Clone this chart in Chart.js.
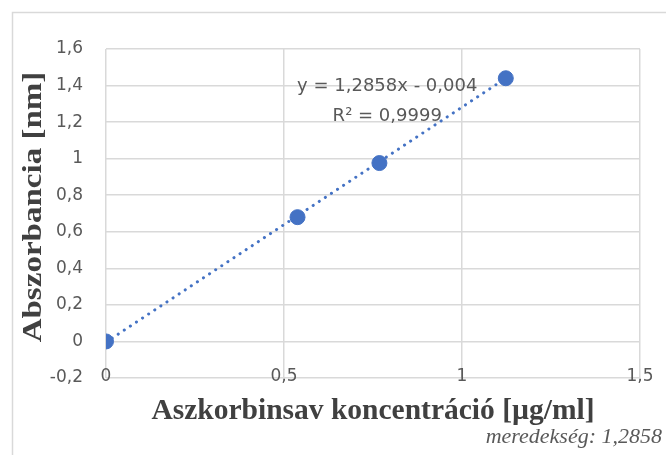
<!DOCTYPE html>
<html>
<head>
<meta charset="utf-8">
<script src="https://cdn.jsdelivr.net/npm/chart.js@4"></script>
<style>
html,body{margin:0;padding:0;background:#fff;}
#wrap{position:relative;width:666px;height:455px;}
canvas{display:block;}
</style>
</head>
<body>
<div id="wrap"><canvas id="c" width="666" height="455"></canvas></div>
<script>
// Data
const concentrations = [0, 0.538, 0.768, 1.123];
const absorbances = [0, 0.68, 0.976, 1.44];
const xTickLabels = ['0', '0,5', '1', '1,5'];
const yTickLabels = ['-0,2', '0', '0,2', '0,4', '0,6', '0,8', '1', '1,2', '1,4', '1,6'];
const trendSlope = 1.2858;
const trendIntercept = -0.004;
const trendRange = [0, 1.123];
const equationLines = ['y = 1,2858x - 0,004', 'R² = 0,9999'];
const xTitle = 'Aszkorbinsav koncentráció [µg/ml]';
const yTitle = 'Abszorbancia [nm]';
const noteText = 'meredekség: 1,2858';

const blue = '#4472C4';
const sansFont = '"DejaVu Sans", "Open Sans", sans-serif';
const serifFont = '"Liberation Serif", "DejaVu Serif", serif';
const trendPoints = trendRange.map(x => ({x: x, y: trendSlope * x + trendIntercept}));

const extras = {
  id: 'extras',
  afterDraw(chart) {
    const ctx = chart.ctx;
    const xs = chart.scales.x, ys = chart.scales.y;
    ctx.save();
    // outer border (partial, as in reference)
    ctx.strokeStyle = '#d9d9d9';
    ctx.lineWidth = 1.5;
    ctx.beginPath();
    ctx.moveTo(12.5, 455);
    ctx.lineTo(12.5, 12.5);
    ctx.lineTo(666, 12.5);
    ctx.stroke();
    // y axis title (stretched along its length as in the reference)
    ctx.save();
    ctx.translate(34, 207);
    ctx.rotate(-Math.PI / 2);
    ctx.scale(1.18, 1);
    ctx.fillStyle = '#404040';
    ctx.font = 'bold 28px ' + serifFont;
    ctx.textAlign = 'center';
    ctx.textBaseline = 'middle';
    ctx.fillText(yTitle, 0, 0);
    ctx.restore();
    // equation label
    ctx.fillStyle = '#595959';
    ctx.font = '18px ' + sansFont;
    ctx.textAlign = 'center';
    ctx.textBaseline = 'middle';
    const ex = xs.getPixelForValue(0.79);
    const ey = ys.getPixelForValue(1.395);
    ctx.fillText(equationLines[0], ex, ey);
    ctx.fillText(equationLines[1], ex, ey + 30);
    // note
    ctx.font = 'italic 22px ' + serifFont;
    ctx.textAlign = 'right';
    ctx.textBaseline = 'alphabetic';
    ctx.fillText(noteText, 662, 443);
    ctx.restore();
  }
};

new Chart(document.getElementById('c'), {
  type: 'scatter',
  data: {
    datasets: [
      {
        label: 'trend',
        type: 'line',
        data: trendPoints,
        borderColor: blue,
        borderWidth: 3,
        borderDash: [0.1, 7.2],
        borderCapStyle: 'round',
        pointRadius: 0,
        fill: false,
        order: 2
      },
      {
        label: 'minták',
        data: concentrations.map((x, i) => ({x: x, y: absorbances[i]})),
        backgroundColor: blue,
        borderColor: blue,
        pointRadius: 7.5,
        pointHoverRadius: 7.5,
        order: 1
      }
    ]
  },
  options: {
    responsive: false,
    animation: false,
    events: [],
    layout: {padding: {left: 0, top: 49, right: 26, bottom: 0}},
    plugins: {legend: {display: false}, tooltip: {enabled: false}},
    scales: {
      x: {
        type: 'linear',
        min: 0, max: 1.5,
        ticks: {
          stepSize: 0.5,
          mirror: true,
          padding: -9,
          color: '#595959',
          font: {family: sansFont, size: 17},
          callback: (v, i) => xTickLabels[i]
        },
        grid: {color: '#d9d9d9', lineWidth: 1.5, drawTicks: false},
        border: {display: false},
        title: {
          display: true,
          text: xTitle,
          color: '#404040',
          font: {family: serifFont, size: 29.5, weight: 'bold'},
          padding: {top: 0, bottom: 26}
        },
        afterFit(s) { s.height = 77; s.paddingLeft = 0; s.paddingRight = 0; }
      },
      y: {
        min: -0.2, max: 1.6,
        ticks: {
          stepSize: 0.2,
          padding: 23,
          color: '#595959',
          font: {family: sansFont, size: 17},
          callback: (v, i) => yTickLabels[i]
        },
        grid: {color: '#d9d9d9', lineWidth: 1.5, drawTicks: false},
        border: {display: false},
        afterFit(s) { s.width = 106; s.paddingTop = 0; s.paddingBottom = 0; }
      }
    }
  },
  plugins: [extras]
});
</script>
</body>
</html>
